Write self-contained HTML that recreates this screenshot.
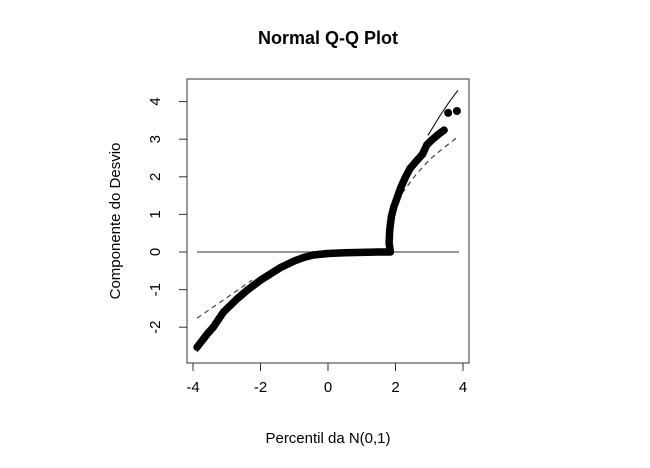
<!DOCTYPE html>
<html><head><meta charset="utf-8"><style>
body{margin:0;background:#fff;width:650px;height:463px;overflow:hidden}
text{font-family:"Liberation Sans",sans-serif}
</style></head><body>
<svg width="650" height="463">
<text x="328" y="44" text-anchor="middle" font-size="18" font-weight="bold">Normal Q-Q Plot</text>
<text x="328" y="443" text-anchor="middle" font-size="15">Percentil da N(0,1)</text>
<text transform="translate(120,221) rotate(-90)" text-anchor="middle" font-size="15">Componente do Desvio</text>
<g id="plot"></g>
</svg>
<script>
const xTicks=[-4,-2,0,2,4];
const yTicks=[-2,-1,0,1,2,3,4];
const sampleX=[-3.88,-3.55,-3.4,-3.1,-2.7,-2.4,-2.0,-1.42,-1.0,-0.7,-0.44,0,0.5,1.0,1.5,1.85,1.81,1.83,1.88,1.95,2.04,2.15,2.3,2.43,2.6,2.8,2.93,3.1,3.3,3.44];
const sampleY=[-2.53,-2.15,-2.0,-1.6,-1.25,-1.02,-0.75,-0.42,-0.24,-0.14,-0.08,-0.04,-0.02,-0.01,0,0,0.24,0.6,0.95,1.2,1.42,1.7,2.0,2.22,2.4,2.6,2.85,3.0,3.15,3.24];
const outX=[3.56,3.82];
const outY=[3.7,3.75];
const solidLX=[-3.88,-3.4];const solidLY=[-2.66,-2.0];
const solidUX=[2.96,3.3,3.6,3.85];const solidUY=[3.1,3.6,4.0,4.3];
const dashLX=[-3.88,-2.25];const dashLY=[-1.76,-0.75];
const dashUX=[2.2,2.6,3.0,3.4,3.8];const dashUY=[1.57,2.05,2.45,2.75,3.03];
const X=v=>328+v*33.75, Y=v=>252-v*37.6;
const g=document.getElementById('plot');const NS='http://www.w3.org/2000/svg';
function el(t,a){const e=document.createElementNS(NS,t);for(const k in a)e.setAttribute(k,a[k]);g.appendChild(e);return e;}
let b=el('rect',{x:187,y:79,width:282,height:284,fill:'none',stroke:'#333','stroke-width':1});


xTicks.forEach(t=>{let l=el('line',{x1:X(t),x2:X(t),y1:363,y2:371,stroke:'#333'});


let tx=el('text',{x:X(t),y:392,'text-anchor':'middle','font-size':15});tx.textContent=t;

});
yTicks.forEach(t=>{let l=el('line',{x1:179,x2:187,y1:Y(t),y2:Y(t),stroke:'#333'});


let tx=el('text',{transform:`translate(160,${Y(t)}) rotate(-90)`,'text-anchor':'middle','font-size':15});tx.textContent=t;

});
let h=el('line',{x1:197,x2:459,y1:Y(0),y2:Y(0),stroke:'#777','stroke-width':1.6});


function poly(xs,ys,attrs,name){const p=el('polyline',Object.assign({points:xs.map((x,i)=>X(x)+','+Y(ys[i])).join(' '),fill:'none'},attrs));

}
poly(solidLX,solidLY,{stroke:'#000','stroke-width':1},'envelope-lower');
poly(solidUX,solidUY,{stroke:'#000','stroke-width':1},'envelope-upper');
poly(dashLX,dashLY,{stroke:'#444','stroke-width':1.2,'stroke-dasharray':'5,4'},'reference-lower');
poly(dashUX,dashUY,{stroke:'#444','stroke-width':1.2,'stroke-dasharray':'5,4'},'reference-upper');
poly(sampleX,sampleY,{stroke:'#000','stroke-width':7.5,'stroke-linejoin':'round','stroke-linecap':'round'},'sample-points');
outX.forEach((x,i)=>{let c=el('circle',{cx:X(x),cy:Y(outY[i]),r:4,fill:'#000'});

});
</script>
</body></html>
